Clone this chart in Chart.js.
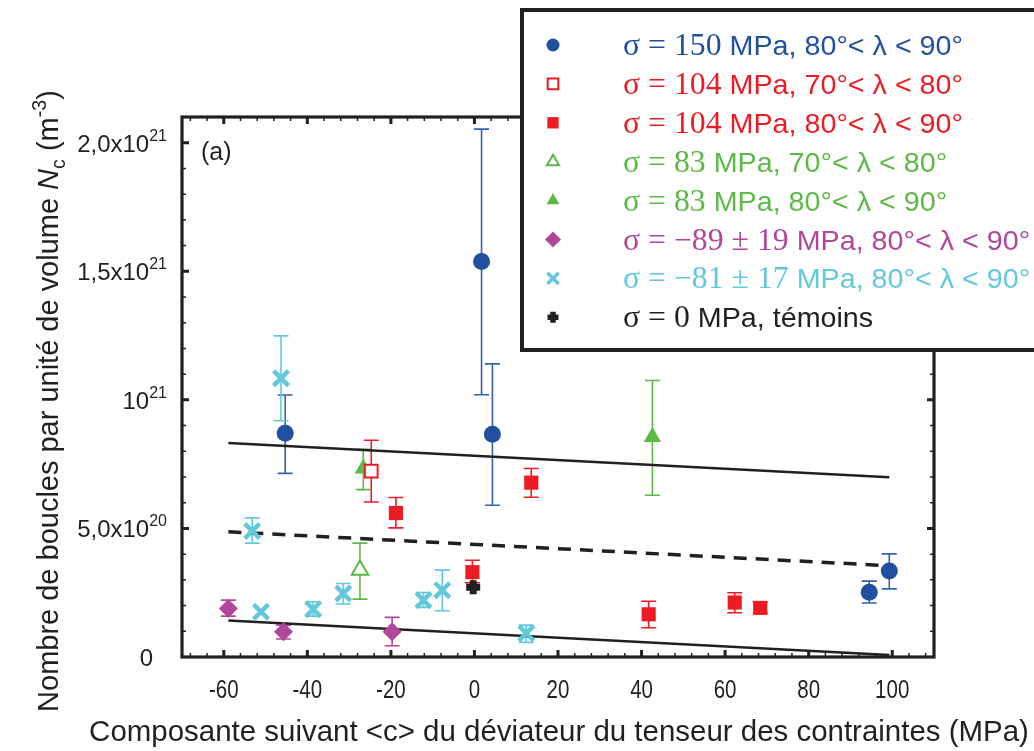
<!DOCTYPE html>
<html><head><meta charset="utf-8">
<script src="https://cdn.jsdelivr.net/npm/chart.js@4.4.0/dist/chart.umd.min.js"></script>
<style>html,body{margin:0;padding:0;background:#fff;overflow:hidden}#wrap{width:1034px;height:751px;position:relative}</style>
</head><body><div id="wrap"><canvas id="c" width="1034" height="751"></canvas></div>
<script>
// ---------- data ----------
const xTickValues = [-60, -40, -20, 0, 20, 40, 60, 80, 100];
const xTickLabels = ['-60', '-40', '-20', '0', '20', '40', '60', '80', '100'];
const yTickValues = [0, 5e20, 1e21, 1.5e21, 2e21];
const yTickMantissa = ['0', '5,0x10', '10', '1,5x10', '2,0x10'];
const yTickExponent = ['', '20', '21', '21', '21'];

// sigma = 150 MPa, 80-90
const s150X  = [-45.3, 1.7, 4.3, 94.5, 99.3];
const s150Y  = [8.70e20, 1.538e21, 8.66e20, 2.52e20, 3.34e20];
const s150Lo = [7.14e20, 1.020e21, 5.90e20, 2.10e20, 2.65e20];
const s150Hi = [1.019e21, 2.053e21, 1.140e21, 2.95e20, 4.01e20];

// sigma = 104 MPa, 70-80 (open squares)
const s104aX  = [-24.7];
const s104aY  = [7.23e20];
const s104aLo = [6.03e20];
const s104aHi = [8.43e20];

// sigma = 104 MPa, 80-90 (filled squares)
const s104bX  = [-18.8, -0.5, 13.6, 41.7, 62.3, 68.4];
const s104bY  = [5.60e20, 3.30e20, 6.78e20, 1.66e20, 2.12e20, 1.91e20];
const s104bLo = [5.02e20, 2.89e20, 6.21e20, 1.14e20, 1.72e20, 1.71e20];
const s104bHi = [6.20e20, 3.76e20, 7.33e20, 2.17e20, 2.50e20, 2.13e20];

// sigma = 83 MPa, 70-80 (open triangles)
const s83aX  = [-27.4];
const s83aY  = [3.38e20];
const s83aLo = [2.25e20];
const s83aHi = [4.43e20];

// sigma = 83 MPa, 80-90 (filled triangles)
const s83bX  = [-26.6, 42.6];
const s83bY  = [7.33e20, 8.56e20];
const s83bLo = [6.51e20, 6.29e20];
const s83bHi = [8.08e20, 1.075e21];

// sigma = -89 +/- 19 MPa (diamonds)
const sm89X  = [-58.9, -45.7, -19.7];
const sm89Y  = [1.89e20, 0.98e20, 0.98e20];
const sm89Lo = [1.59e20, 0.70e20, 0.44e20];
const sm89Hi = [2.21e20, 1.24e20, 1.54e20];

// sigma = -81 +/- 17 MPa (crosses)
const sm81X  = [-46.3, -53.2, -51.1, -38.6, -31.4, -12.2, -7.7, 12.4];
const sm81Y  = [1.084e21, 4.90e20, 1.76e20, 1.86e20, 2.47e20, 2.21e20, 2.60e20, 0.92e20];
const sm81Lo = [9.19e20, 4.43e20, 1.76e20, 1.59e20, 2.06e20, 1.93e20, 1.80e20, 0.57e20];
const sm81Hi = [1.249e21, 5.41e20, 1.76e20, 2.15e20, 2.86e20, 2.51e20, 3.38e20, 1.24e20];

// sigma = 0 MPa, temoins
const s0X = [-0.3];
const s0Y = [2.71e20];

// fit lines
const fitX      = [-58.9, 99.3];
const fitUpperY = [8.32e20, 6.99e20];
const fitMidY   = [4.87e20, 3.55e20];
const fitLowerY = [1.42e20, 0.08e20];

const legendLabels = [
  ['σ = 150', ' MPa, 80°< λ < 90°'],
  ['σ = 104', ' MPa, 70°< λ < 80°'],
  ['σ = 104', ' MPa, 80°< λ < 90°'],
  ['σ = 83', ' MPa, 70°< λ < 80°'],
  ['σ = 83', ' MPa, 80°< λ < 90°'],
  ['σ = −89 ± 19', ' MPa, 80°< λ < 90°'],
  ['σ = −81 ± 17', ' MPa, 80°< λ < 90°'],
  ['σ = 0', ' MPa, témoins']
];

// ---------- colours ----------
const C_BLUE = '#2150a0', C_BLUE_E = '#3461ad';
const C_RED = '#ed1c24';
const C_GREEN = '#5cb946';
const C_MAG = '#b1479c';
const C_CYAN = '#62c8dc';
const C_BLACK = '#231f20';

function pts(xs, ys, lo, hi) {
  return xs.map((x, i) => ({x: x, y: ys[i], lo: lo ? lo[i] : null, hi: hi ? hi[i] : null}));
}

const datasets = [
  {label: legendLabels[0].join(''), data: pts(s150X, s150Y, s150Lo, s150Hi), pointStyle: 'circle', radius: 8.5,
   backgroundColor: C_BLUE, borderColor: C_BLUE, borderWidth: 0, errColor: C_BLUE_E, legRadius: 6.5, legBorder: 0},
  {label: legendLabels[1].join(''), data: pts(s104aX, s104aY, s104aLo, s104aHi), pointStyle: 'rect', radius: 9,
   backgroundColor: '#ffffff', borderColor: C_RED, borderWidth: 2, errColor: C_RED, legRadius: 7.5, legBorder: 2},
  {label: legendLabels[2].join(''), data: pts(s104bX, s104bY, s104bLo, s104bHi), pointStyle: 'rect', radius: 10,
   backgroundColor: C_RED, borderColor: C_RED, borderWidth: 0, errColor: C_RED, legRadius: 8, legBorder: 0},
  {label: legendLabels[3].join(''), data: pts(s83aX, s83aY, s83aLo, s83aHi), pointStyle: 'triangle', radius: 9.5,
   backgroundColor: '#ffffff', borderColor: C_GREEN, borderWidth: 2, errColor: C_GREEN, legRadius: 7, legBorder: 2},
  {label: legendLabels[4].join(''), data: pts(s83bX, s83bY, s83bLo, s83bHi), pointStyle: 'triangle', radius: 10,
   backgroundColor: C_GREEN, borderColor: C_GREEN, borderWidth: 0, errColor: C_GREEN, legRadius: 7.5, legBorder: 0},
  {label: legendLabels[5].join(''), data: pts(sm89X, sm89Y, sm89Lo, sm89Hi), pointStyle: 'rectRot', radius: 9.5,
   backgroundColor: C_MAG, borderColor: C_MAG, borderWidth: 0, errColor: C_MAG, legRadius: 8, legBorder: 0},
  {label: legendLabels[6].join(''), data: pts(sm81X, sm81Y, sm81Lo, sm81Hi), pointStyle: 'crossRot', radius: 10.5,
   backgroundColor: C_CYAN, borderColor: C_CYAN, borderWidth: 4.5, errColor: C_CYAN, legRadius: 8, legBorder: 3.5},
  {label: legendLabels[7].join(''), data: pts(s0X, s0Y), pointStyle: 'cross', radius: 7,
   backgroundColor: C_BLACK, borderColor: C_BLACK, borderWidth: 7, errColor: C_BLACK, legRadius: 5.5, legBorder: 5.5},
  {type: 'line', label: 'fit1', data: pts(fitX, fitUpperY), borderColor: C_BLACK, borderWidth: 2.5, pointRadius: 0, fill: false, isFit: true},
  {type: 'line', label: 'fit2', data: pts(fitX, fitMidY), borderColor: C_BLACK, borderWidth: 3.5, borderDash: [13, 9], pointRadius: 0, fill: false, isFit: true},
  {type: 'line', label: 'fit3', data: pts(fitX, fitLowerY), borderColor: C_BLACK, borderWidth: 2.5, pointRadius: 0, fill: false, isFit: true}
];
datasets.forEach(d => { if (!d.isFit) { d.pointRadius = d.radius; d.pointHoverRadius = d.radius; } });

const FRAME = {left: 182, top: 117, right: 934, bottom: 657};

function richWidth(ctx, segs) {
  let w = 0;
  segs.forEach(s => { ctx.font = s.font; w += ctx.measureText(s.text).width; });
  return w;
}
function drawRich(ctx, segs, x, y) {
  let cx = x;
  segs.forEach(s => {
    ctx.font = s.font;
    ctx.fillStyle = s.color || C_BLACK;
    ctx.fillText(s.text, cx, y + (s.dy || 0));
    cx += ctx.measureText(s.text).width;
  });
}

const errorBars = {
  id: 'errorBars',
  beforeDatasetsDraw(chart) {
    const ctx = chart.ctx, xs = chart.scales.x, ys = chart.scales.y;
    ctx.save();
    chart.data.datasets.forEach(ds => {
      if (ds.isFit) return;
      ctx.strokeStyle = ds.errColor; ctx.lineWidth = 1.6;
      ds.data.forEach(p => {
        if (p.lo == null || p.hi == null || p.hi - p.lo < 1e18) return;
        const px = xs.getPixelForValue(p.x);
        const yl = ys.getPixelForValue(p.lo), yh = ys.getPixelForValue(p.hi);
        const cap = 7.5;
        ctx.beginPath();
        ctx.moveTo(px, yl); ctx.lineTo(px, yh);
        ctx.moveTo(px - cap, yl); ctx.lineTo(px + cap, yl);
        ctx.moveTo(px - cap, yh); ctx.lineTo(px + cap, yh);
        ctx.stroke();
      });
    });
    ctx.restore();
  }
};

const SANSF = '"Liberation Sans", Arial, sans-serif';

const frameAndText = {
  id: 'frameAndText',
  afterDatasetsDraw(chart) {
    const ctx = chart.ctx, xs = chart.scales.x, ys = chart.scales.y;
    const L = xs.getPixelForValue(xs.min), R = xs.getPixelForValue(xs.max);
    const T = ys.getPixelForValue(ys.max), B = ys.getPixelForValue(ys.min);
    ctx.save();
    // ticks (mirrored on all sides, pointing inwards)
    ctx.strokeStyle = C_BLACK;
    for (let v = -68; v <= 110; v += 4) {
      const px = xs.getPixelForValue(v);
      const major = xTickValues.includes(v);
      ctx.lineWidth = major ? 3 : 1.5;
      const len = major ? 7 : 4;
      ctx.beginPath();
      ctx.moveTo(px, B); ctx.lineTo(px, B - len);
      ctx.moveTo(px, T); ctx.lineTo(px, T + len);
      ctx.stroke();
    }
    for (let k = 1; k <= 20; k++) {
      const v = k * 1e20;
      const py = ys.getPixelForValue(v);
      const major = k % 5 === 0;
      ctx.lineWidth = major ? 3 : 1.5;
      const len = major ? 7 : 4;
      ctx.beginPath();
      ctx.moveTo(L, py); ctx.lineTo(L + len, py);
      ctx.moveTo(R, py); ctx.lineTo(R - len, py);
      ctx.stroke();
    }
    // frame
    ctx.lineWidth = 3.2;
    ctx.strokeRect(L, T, R - L, B - T);

    // x tick labels (condensed)
    ctx.fillStyle = C_BLACK;
    ctx.textAlign = 'center'; ctx.textBaseline = 'middle';
    ctx.font = '25px ' + SANSF;
    xTickValues.forEach((v, i) => {
      const px = xs.getPixelForValue(v);
      ctx.save(); ctx.translate(px, 691); ctx.scale(0.82, 1);
      ctx.fillText(xTickLabels[i], 0, 0); ctx.restore();
    });
    // y tick labels with superscript exponent
    ctx.textAlign = 'left'; ctx.textBaseline = 'alphabetic';
    yTickValues.forEach((v, i) => {
      const py = ys.getPixelForValue(v);
      const segs = [{text: yTickMantissa[i], font: '24px ' + SANSF}];
      if (yTickExponent[i]) segs.push({text: yTickExponent[i], font: '16px ' + SANSF, dy: -11});
      const w = richWidth(ctx, segs);
      const right = yTickExponent[i] ? L - 15 : L - 29;
      drawRich(ctx, segs, right - w, py + 9);
    });

    // (a)
    ctx.font = '25px ' + SANSF;
    ctx.fillStyle = C_BLACK;
    ctx.fillText('(a)', 201, 160);

    // x title (font size fitted to the reference width)
    let fs = 25;
    let xt = [{text: 'Composante suivant <c> du déviateur du tenseur des contraintes (MPa)', font: fs + 'px ' + SANSF}];
    fs = fs * 940 / richWidth(ctx, xt);
    xt = [{text: xt[0].text, font: fs.toFixed(2) + 'px ' + SANSF}];
    let w = richWidth(ctx, xt);
    drawRich(ctx, xt, 559 - w / 2, 741);

    // y title
    const mk = (f) => [
      {text: 'Nombre de boucles par unité de volume ', font: f + 'px ' + SANSF},
      {text: 'N', font: 'italic ' + f + 'px ' + SANSF},
      {text: 'c', font: (f * 0.68).toFixed(2) + 'px ' + SANSF, dy: f * 0.25},
      {text: ' (m', font: f + 'px ' + SANSF},
      {text: '-3', font: (f * 0.68).toFixed(2) + 'px ' + SANSF, dy: -f * 0.42},
      {text: ')', font: f + 'px ' + SANSF}
    ];
    let fy = 25;
    fy = fy * 622 / richWidth(ctx, mk(fy));
    const yt = mk(fy);
    w = richWidth(ctx, yt);
    ctx.save(); ctx.translate(58, 401); ctx.rotate(-Math.PI / 2);
    drawRich(ctx, yt, -w / 2, 0); ctx.restore();

    // legend box
    const bx = 522, by = 10, bw = 540, bh = 340;
    ctx.fillStyle = '#ffffff';
    ctx.fillRect(bx, by, bw, bh);
    ctx.lineWidth = 4; ctx.strokeStyle = C_BLACK;
    ctx.strokeRect(bx, by, bw, bh);
    const colors = [C_BLUE, C_RED, C_RED, C_GREEN, C_GREEN, C_MAG, C_CYAN, C_BLACK];
    const SERIF = '31px "Liberation Serif", "Times New Roman", serif';
    const SANS = '28px ' + SANSF;
    const row0 = [{text: legendLabels[0][0], font: SERIF}, {text: legendLabels[0][1], font: SANS}];
    const lscale = Math.min(1.1, Math.max(0.8, 340 / richWidth(ctx, row0)));
    chart.data.datasets.forEach((ds, i) => {
      if (ds.isFit) return;
      const cy = 45 + i * 38.9;
      ctx.save();
      ctx.fillStyle = ds.backgroundColor; ctx.strokeStyle = ds.borderColor;
      ctx.lineWidth = ds.legBorder;
      Chart.helpers.drawPoint(ctx, {pointStyle: ds.pointStyle, rotation: 0, radius: ds.legRadius, borderWidth: ds.legBorder}, 553, cy);
      ctx.restore();
      const segs = [{text: legendLabels[i][0], font: SERIF, color: colors[i]}, {text: legendLabels[i][1], font: SANS, color: colors[i]}];
      ctx.save(); ctx.translate(623, cy + 10); ctx.scale(lscale, 1);
      drawRich(ctx, segs, 0, 0); ctx.restore();
    });
    ctx.restore();
  }
};

new Chart(document.getElementById('c'), {
  type: 'scatter',
  data: {datasets: datasets},
  options: {
    responsive: false, animation: false, events: [],
    layout: {padding: {left: FRAME.left, right: 1034 - FRAME.right, top: FRAME.top, bottom: 751 - FRAME.bottom}},
    scales: {
      x: {type: 'linear', min: -70, max: 110, display: false},
      y: {type: 'linear', min: 0, max: 2.1e21, display: false}
    },
    plugins: {legend: {display: false}, tooltip: {enabled: false}}
  },
  plugins: [errorBars, frameAndText]
});
</script>
</body></html>
